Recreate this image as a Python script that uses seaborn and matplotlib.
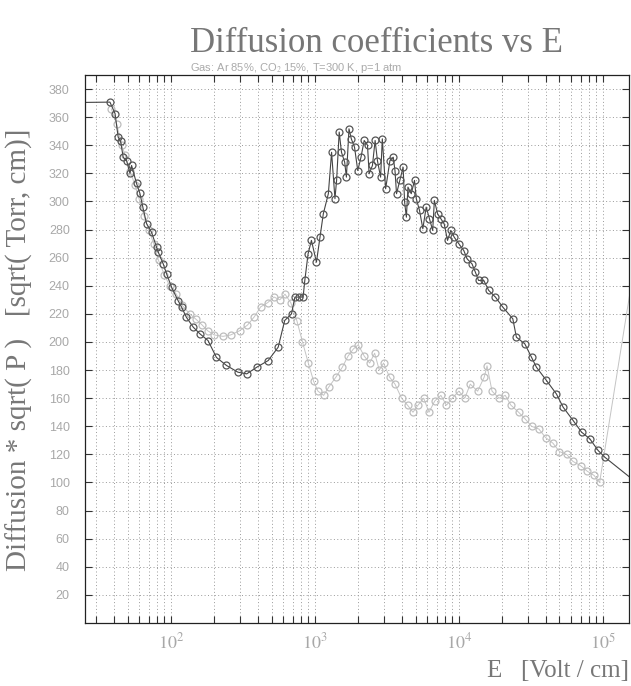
import numpy as np
import pandas as pd
import matplotlib
matplotlib.use("Agg")
import matplotlib.pyplot as plt
import seaborn as sns
from matplotlib.ticker import FixedLocator, LogLocator, NullFormatter

# ---------------- data ----------------
dark_E = [10, 37.7, 40.9, 43.0, 44.7, 46.6, 49.2, 51.9, 53.3, 57.7, 60.9, 63.8, 67.7, 73.4,
          79.5, 81.6, 88.4, 93.3, 101, 112, 118.6, 128, 143, 159, 181, 207, 243, 292,
          336, 394, 474, 556, 617, 688, 726, 780, 828, 851, 897, 946, 1025, 1085, 1144,
          1240, 1306, 1378, 1415, 1475, 1530, 1610, 1655, 1725, 1790, 1885, 1985, 2090,
          2200, 2320, 2380, 2510, 2620, 2720, 2860, 2940, 3100, 3320, 3500, 3600, 3690,
          3890, 4100, 4200, 4320, 4430, 4670, 4920, 5060, 5330, 5620, 5930, 6250, 6580,
          6760, 7120, 7500, 7910, 8340, 8800, 9280, 10000, 10830, 11400, 12340, 13020,
          13700, 14900, 16110, 17960, 20200, 23700, 25100, 28700, 32000, 34600, 40600,
          47600, 53000, 62300, 71200, 81200, 92700, 103200, 300000]
dark_D = [370, 370.7, 362.6, 345.8, 343, 331.5, 329, 320, 325.6, 312.8, 305.7, 296, 284.3, 278,
          267.4, 264, 255.6, 248.5, 239, 229.5, 224.8, 217.6, 210.5, 205.8, 201, 189, 183.3,
          178.5, 177.3, 182, 186.8, 196.3, 215.3, 220, 231.9, 232, 231.9, 243.8, 262.8,
          272.3, 256.8, 274.6, 291.2, 305.5, 335, 302, 315, 349.4, 335, 328, 317.3, 351.7,
          344.6, 338.6, 322, 331.5, 343.4, 340, 319.7, 325.6, 343.4, 329, 317.3, 344.6,
          309, 329, 331.5, 322, 305.5, 315, 324.4, 299.5, 288.8, 310.2, 305.5, 315, 302,
          293.6, 280.6, 296, 287.7, 279.4, 300.7, 291.2, 287.7, 284, 272.3, 279.4, 274.6,
          269.9, 265, 259.2, 255.6, 249.7, 243.8, 243.8, 236.7, 231.9, 224.8, 216.5, 203.4,
          198.7, 189, 182, 172.6, 163, 153.6, 144, 135.8, 131.1, 122.8, 118, 80]

light_E = [38.5, 42, 45.5, 48, 52, 56, 60, 65, 70, 76, 82, 90, 98, 109, 120, 135, 150, 165,
           180, 200, 230, 260, 300, 340, 380, 420, 470, 520, 570, 620, 680, 750, 820, 900,
           980, 1050, 1150, 1250, 1400, 1550, 1700, 1850, 2000, 2200, 2400, 2600, 2800,
           3000, 3300, 3600, 4000, 4400, 4800, 5200, 5700, 6200, 6800, 7500, 8200, 9000,
           10000, 11000, 12000, 13500, 15000, 15700, 17000, 19000, 21000, 23000, 26000,
           29000, 32000, 36000, 40000, 45000, 50000, 56000, 62000, 70000, 78000, 87000,
           95000, 300000]
light_D = [366, 355, 340, 333, 322, 312, 302, 290, 280, 270, 258, 248, 240, 234, 226, 220,
           216, 212, 208, 205, 204, 205, 208, 212, 218, 225, 228, 232, 230, 234, 228, 215,
           200, 185, 172, 165, 162, 168, 175, 182, 190, 195, 198, 190, 185, 192, 180, 185,
           175, 170, 160, 155, 150, 155, 160, 150, 158, 162, 155, 160, 165, 160, 170, 165,
           175, 183, 165, 160, 162, 155, 150, 145, 140, 138, 132, 128, 122, 120, 115, 112,
           108, 105, 100, 420]

y_ticks = list(range(20, 381, 20))
x_major = [1e2, 1e3, 1e4, 1e5]
x_labels = ["$10^{2}$", "$10^{3}$", "$10^{4}$", "$10^{5}$"]

title = "Diffusion coefficients vs E"
subtitle = "Gas: Ar 85%, CO$_2$ 15%, T=300 K, p=1 atm"
ylabel = "Diffusion * sqrt( P )   [sqrt( Torr, cm)]"
xlabel = "E   [Volt / cm]"

# ---------------- drawing ----------------
sns.set_style("white")
plt.rcParams["font.family"] = ["Liberation Serif", "DejaVu Serif"]
plt.rcParams["mathtext.fontset"] = "stix"

fig = plt.figure(figsize=(6.31, 6.86), dpi=100)
ax = fig.add_axes([85 / 631, 1 - 623 / 686, 544 / 631, 548 / 686])

dark = pd.DataFrame({"E": dark_E, "D": dark_D})
light = pd.DataFrame({"E": light_E, "D": light_D})

sns.lineplot(data=light, x="E", y="D", ax=ax, sort=False, estimator=None,
             color="#c4c4c4", lw=0.7, marker="o", markersize=5,
             markerfacecolor="none", markeredgecolor="#bdbdbd", markeredgewidth=0.9)
sns.lineplot(data=dark, x="E", y="D", ax=ax, sort=False, estimator=None,
             color="#444444", lw=0.8, marker="o", markersize=5,
             markerfacecolor="none", markeredgecolor="#555555", markeredgewidth=0.9)

ax.set_xscale("log")
ax.set_xlim(25.3, 152000)
ax.set_ylim(0, 390)

ax.xaxis.set_major_locator(FixedLocator(x_major))
ax.set_xticklabels(x_labels)
ax.xaxis.set_minor_locator(LogLocator(base=10, subs=np.arange(2, 10)))
ax.xaxis.set_minor_formatter(NullFormatter())
ax.yaxis.set_major_locator(FixedLocator(y_ticks))
ax.set_yticklabels([str(v) for v in y_ticks])

ax.grid(True, which="both", axis="x", color="#9a9a9a", ls=(0, (1, 2.5)), lw=0.7)
ax.grid(True, which="major", axis="y", color="#9a9a9a", ls=(0, (1, 2.5)), lw=0.7)

ax.tick_params(axis="both", which="both", direction="in", top=True, right=True,
               bottom=True, left=True, colors="#333333", labelcolor="#a8a8a8")
ax.tick_params(axis="x", which="major", length=5, width=0.8, pad=7, labelsize=13)
ax.tick_params(axis="x", which="minor", length=5, width=0.8)
ax.tick_params(axis="y", which="major", length=5, width=0.8, pad=11, labelsize=9)
for lab in ax.get_yticklabels():
    lab.set_family(["Liberation Sans", "DejaVu Sans"])
for sp in ax.spines.values():
    sp.set_color("#222222")
    sp.set_linewidth(0.9)

ax.set_xlabel("")
ax.set_ylabel("")
fig.text(190 / 631, 1 - 52 / 686, title, fontsize=25, color="#777777", ha="left",
         va="baseline")
fig.text(190 / 631, 1 - 71 / 686, subtitle, fontsize=8, color="#aaaaaa", ha="left",
         va="baseline", family=["Liberation Sans", "DejaVu Sans"])
fig.text(0.03, 0.49, ylabel, fontsize=21, color="#777777",
         rotation=90, ha="center", va="center")
fig.text(629 / 631, 9 / 686, xlabel, fontsize=18, color="#777777", ha="right",
         va="baseline")

fig.savefig("out.png", dpi=100)
